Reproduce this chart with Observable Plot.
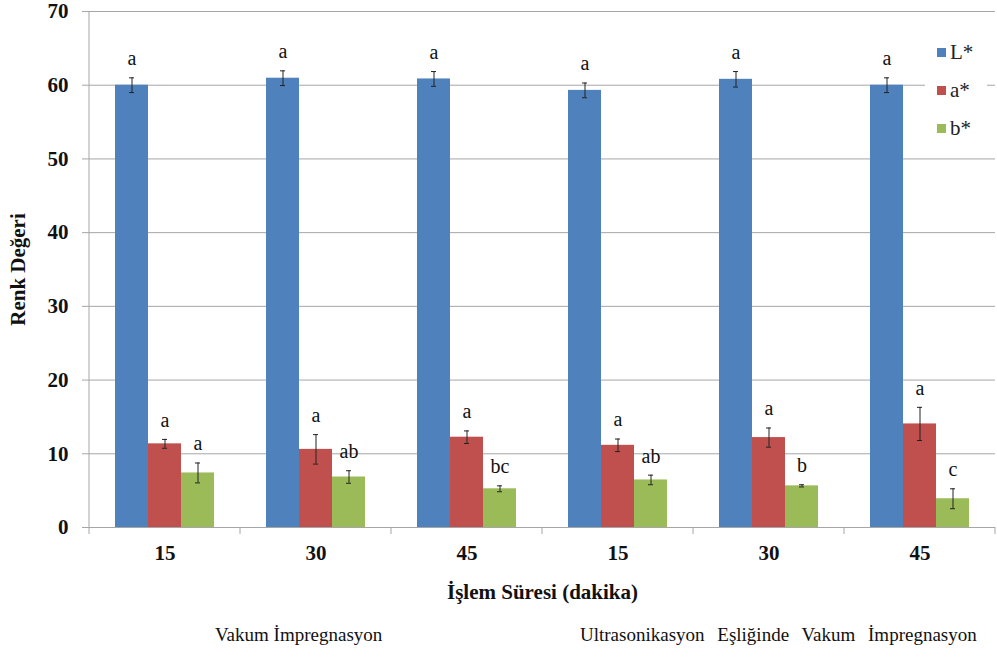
<!DOCTYPE html>
<html>
<head>
<meta charset="utf-8">
<script src="https://cdn.jsdelivr.net/npm/d3@7"></script>
<script src="https://cdn.jsdelivr.net/npm/@observablehq/plot@0.6"></script>
<style>
  body { margin: 0; background: #fff; }
  #wrap { position: relative; width: 997px; height: 659px; font-family: "Liberation Serif", "Times New Roman", serif; }
  #legend { position: absolute; left: 925px; top: 32px; width: 62px; height: 112px; background: #fff; }
  .li { position: absolute; left: 12px; font-size: 21px; line-height: 21px; color: #222; }
  .li span.sw { display: inline-block; width: 9px; height: 9px; margin-right: 4px; vertical-align: 2px; }
  .grp { position: absolute; top: 624px; font-size: 19px; color: #111; white-space: nowrap; }
</style>
</head>
<body>
<div id="wrap">
  <div id="chart"></div>
  <div id="legend"></div>
  <div class="grp" id="g1"></div>
  <div class="grp" id="g2"></div>
</div>
<script>
const groups = ["VI-15", "VI-30", "VI-45", "UEVI-15", "UEVI-30", "UEVI-45"];
const groupLabels = ["15", "30", "45", "15", "30", "45"];
const methodLabels = ["Vakum İmpregnasyon", "Ultrasonikasyon Eşliğinde Vakum İmpregnasyon"];
const series = ["L*", "a*", "b*"];
const colors = ["#4F81BD", "#C0504D", "#9BBB59"];
const yTicks = [0, 10, 20, 30, 40, 50, 60, 70];

const Lvals = [60.0, 60.95, 60.85, 59.3, 60.8, 60.0];
const Lerr = [1.0, 1.0, 1.0, 1.0, 1.05, 1.0];
const Lletters = ["a", "a", "a", "a", "a", "a"];
const avals = [11.35, 10.6, 12.25, 11.15, 12.2, 14.05];
const aerr = [0.6, 2.0, 0.85, 0.85, 1.3, 2.25];
const aletters = ["a", "a", "a", "a", "a", "a"];
const bvals = [7.4, 6.85, 5.25, 6.45, 5.65, 3.9];
const berr = [1.35, 0.85, 0.4, 0.65, 0.15, 1.35];
const bletters = ["a", "ab", "bc", "ab", "b", "c"];

const data = groups.flatMap((g, i) => [
  {group: g, series: "L*", value: Lvals[i], err: Lerr[i], letter: Lletters[i]},
  {group: g, series: "a*", value: avals[i], err: aerr[i], letter: aletters[i]},
  {group: g, series: "b*", value: bvals[i], err: berr[i], letter: bletters[i]}
]);

const font = "Liberation Serif";
const chart = Plot.plot({
  width: 997,
  height: 615,
  marginLeft: 87,
  marginRight: 0,
  marginTop: 11,
  marginBottom: 88,
  style: {fontFamily: font, background: "transparent", color: "#111"},
  fx: {domain: groups, padding: 0},
  x: {domain: series, paddingInner: 0, paddingOuter: 0.73, axis: null},
  y: {domain: [0, 70]},
  color: {domain: series, range: colors},
  marks: [
    Plot.gridY(yTicks, {stroke: "#a6a6a6", strokeOpacity: 1}),
    Plot.axisY(yTicks, {anchor: "left", tickSize: 7, stroke: "#a6a6a6", tickPadding: 14,
      fontSize: 21, fontWeight: "bold", fontFamily: font, fill: "#111",
      label: "Renk Değeri", labelAnchor: "center", labelOffset: 79}),
    Plot.axisFx({anchor: "bottom", tickSize: 0, tickPadding: 18,
      tickFormat: d => groupLabels[groups.indexOf(d)],
      fontSize: 21, fontWeight: "bold", fontFamily: font, fill: "#111",
      label: "İşlem Süresi (dakika)", labelAnchor: "center", labelOffset: 71}),
    Plot.ruleY([0], {stroke: "#a6a6a6"}),
    Plot.barY(data, {fx: "group", x: "series", y: "value", fill: "series"}),
    Plot.ruleX(data, {fx: "group", x: "series", y1: d => d.value - d.err, y2: d => d.value + d.err, stroke: "#222", strokeWidth: 1}),
    Plot.tickY(data, {fx: "group", x: "series", y: d => d.value - d.err, stroke: "#222", insetLeft: 14, insetRight: 14}),
    Plot.tickY(data, {fx: "group", x: "series", y: d => d.value + d.err, stroke: "#222", insetLeft: 14, insetRight: 14}),
    Plot.text(data, {fx: "group", x: "series", y: d => d.value + d.err, text: "letter", dy: -19,
      fontSize: 20, fontFamily: font, fill: "#111"})
  ]
});
document.getElementById("chart").appendChild(chart);

// remove direction arrows from axis labels
d3.select(chart).selectAll("text, tspan").each(function() {
  if (this.childNodes.length === 1 && this.firstChild.nodeType === 3) {
    const t = this.textContent;
    const c = t.replace(/\s*[↑↓→←]\s*/g, "");
    if (c !== t) this.textContent = c;
  }
});

// y-axis line and category boundary ticks drawn from the fx scale
const fx = chart.scale("fx");
const yS = chart.scale("y");
const svg = d3.select(chart);
const edges = groups.map(g => fx.apply(g)).concat([fx.apply(groups[groups.length - 1]) + fx.bandwidth]);
svg.append("line").attr("x1", edges[0]).attr("x2", edges[0])
  .attr("y1", yS.apply(70)).attr("y2", yS.apply(0)).attr("stroke", "#a6a6a6");
edges.forEach(x => svg.append("line").attr("x1", x).attr("x2", x)
  .attr("y1", yS.apply(0)).attr("y2", yS.apply(0) + 7).attr("stroke", "#a6a6a6"));

// legend
const lg = document.getElementById("legend");
series.forEach((s, i) => {
  const d = document.createElement("div");
  d.className = "li";
  d.style.top = (10 + i * 38) + "px";
  d.innerHTML = `<span class="sw" style="background:${colors[i]}"></span>${s}`;
  lg.appendChild(d);
});

// treatment labels
const g1 = document.getElementById("g1");
g1.textContent = methodLabels[0];
g1.style.left = "215px";
const g2 = document.getElementById("g2");
g2.textContent = methodLabels[1];
g2.style.left = "580px";
g2.style.wordSpacing = "8px";
</script>
</body>
</html>
